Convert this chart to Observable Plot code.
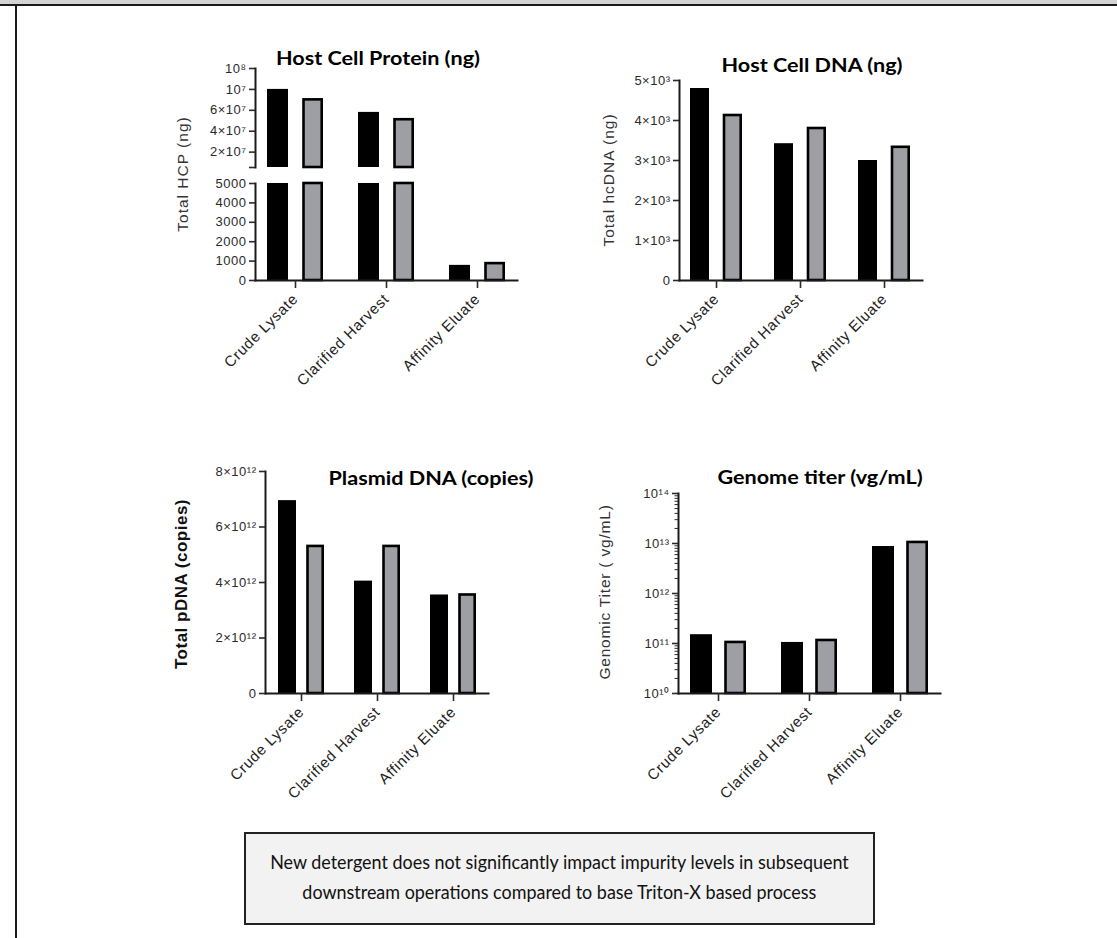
<!DOCTYPE html>
<html><head><meta charset="utf-8">
<script src="https://cdn.jsdelivr.net/npm/d3@7"></script>
<script src="https://cdn.jsdelivr.net/npm/@observablehq/plot@0.6"></script>
<style>
html,body{margin:0;padding:0;background:#fff;}
#page{position:relative;width:1117px;height:938px;overflow:hidden;font-family:"Liberation Sans",Arial,sans-serif;}
.title{position:absolute;transform:translate(-50%,-50%) scaleX(1.2);font-family:Lato,"Open Sans",sans-serif;font-weight:700;font-size:18px;white-space:nowrap;color:#000;}
.ylab{position:absolute;transform:translate(-50%,-50%) rotate(-90deg);white-space:nowrap;font-size:15.5px;letter-spacing:1px;color:#333;}
.panelsvg{position:absolute;}
.panelsvg g[aria-label="x-axis tick label"] text{font-size:15px;letter-spacing:0.7px;fill:#222;}
.panelsvg g[aria-label="y-axis tick label"] text{font-size:13px;letter-spacing:0.5px;fill:#2a2a2a;}
#topband{position:absolute;left:0;top:0;width:1117px;height:4px;background:#d3d3d3;border-bottom:2px solid #1a1a1a;}
#leftline{position:absolute;left:15px;top:4px;width:2px;height:934px;background:#1a1a1a;}
#caption{position:absolute;left:244px;top:832px;width:627px;height:89px;border:2px solid #222;background:#f2f2f2;font-family:Lato,"Open Sans",sans-serif;font-size:19.5px;color:#111;text-align:center;line-height:30px;padding-top:0;box-sizing:content-box;}
#caption div{width:627px;display:flex;justify-content:center;}
#caption span{display:inline-block;transform:scaleX(0.92);white-space:nowrap;}
#caption div:first-child{margin-top:13px;}
</style></head><body><div id="page">
<div id="topband"></div><div id="leftline"></div>
</div>
<script>
// ---------- data ----------
const categories = ["Crude Lysate", "Clarified Harvest", "Affinity Eluate"];
const seriesNames = ["Triton-X (base)", "New detergent"];

const hcpBase = [8.0e7, 5.8e7, 780];
const hcpNew = [7.0e7, 5.1e7, 870];
const hcdnaBase = [4800, 3420, 3000];
const hcdnaNew = [4125, 3800, 3330];
const pdnaBase = [6.95e12, 4.05e12, 3.55e12];
const pdnaNew = [5.3e12, 5.3e12, 3.55e12];
const titerBase = [1.5e11, 1.05e11, 8.7e12];
const titerNew = [1.05e11, 1.15e11, 1.05e13];

// ---------- tick labels ----------
const hcpUpperTicks = [5.3e6, 2e7, 4e7, 6e7, 8e7, 1e8];
const hcpUpperLabels = ["", "2×10⁷", "4×10⁷", "6×10⁷", "10⁷", "10⁸"];
const hcpLowerTicks = [0, 1000, 2000, 3000, 4000, 5000];
const hcpLowerLabels = ["0", "1000", "2000", "3000", "4000", "5000"];
const hcdnaTicks = [0, 1000, 2000, 3000, 4000, 5000];
const hcdnaLabels = ["0", "1×10³", "2×10³", "3×10³", "4×10³", "5×10³"];
const pdnaTicks = [0, 2e12, 4e12, 6e12, 8e12];
const pdnaLabels = ["0", "2×10¹²", "4×10¹²", "6×10¹²", "8×10¹²"];
const titerTicks = [1e10, 1e11, 1e12, 1e13, 1e14];
const titerLabels = ["10¹⁰", "10¹¹", "10¹²", "10¹³", "10¹⁴"];
const titerMinor = d3.range(10, 14).flatMap(k => d3.range(2, 10).map(m => m * Math.pow(10, k)));

const titles = ["Host Cell Protein (ng)", "Host Cell DNA (ng)", "Plasmid DNA (copies)", "Genome titer (vg/mL)"];
const yLabels = ["Total HCP (ng)", "Total hcDNA (ng)", "Total pDNA (copies)", "Genomic Titer ( vg/mL)"];
const captionLines = ["New detergent does not significantly impact impurity levels in subsequent",
  "downstream operations compared to base Triton-X based process"];

// ---------- helpers ----------
const page = document.getElementById("page");
function rows(base, neu) {
  return categories.flatMap((c, i) => [
    {category: c, series: seriesNames[0], value: base[i]},
    {category: c, series: seriesNames[1], value: neu[i]}
  ]);
}
function fmt(ticks, labels) {
  const m = new Map(ticks.map((t, i) => [t, labels[i]]));
  return d => m.has(d) ? m.get(d) : "";
}
function bars(data, geo, yopts) {
  return [
    Plot.barY(data.filter(d => d.series === seriesNames[0]),
      {x: "category", ...yopts, fill: "#000", insetRight: geo.insetBlack}),
    Plot.barY(data.filter(d => d.series === seriesNames[1]),
      {x: "category", ...yopts, fill: "#9e9ea5", stroke: "#000", strokeWidth: 2.6,
       insetLeft: geo.insetGray, insetRight: 1.3})
  ];
}
const baseStyle = {fontFamily: "'Liberation Sans', Arial, sans-serif", fontSize: "12px", color: "#2a2a2a", background: "transparent", overflow: "visible"};
function place(svg, left, top) {
  svg.classList.add("panelsvg");
  svg.style.left = left + "px";
  svg.style.top = top + "px";
  page.appendChild(svg);
}
function xAxis() {
  return Plot.axisX({tickRotate: -45, tickSize: 8, tickPadding: 8, strokeWidth: 1.6, label: null});
}
function yAxis(ticks, labels, extra = {}) {
  return Plot.axisY({ticks, tickFormat: fmt(ticks, labels), tickSize: 6, tickPadding: 3, strokeWidth: 1.6, label: null, ...extra});
}
const axisLine = {stroke: "#1a1a1a", strokeWidth: 2};

// ---------- Panel 1: Host Cell Protein (broken axis) ----------
const hcp = rows(hcpBase, hcpNew);
const xP1 = {domain: categories, paddingInner: 0.385, paddingOuter: 0.12};
const geo1 = {insetBlack: 35, insetGray: 36.5};
place(Plot.plot({
  width: 380, height: 130, marginLeft: 95, marginRight: 23, marginTop: 28, marginBottom: 3,
  style: baseStyle,
  x: {...xP1, axis: null},
  y: {domain: [5.3e6, 1e8]},
  marks: [
    ...bars(hcp.filter(d => d.value > 5000), geo1, {y1: () => 5.3e6, y2: "value"}),
    Plot.frame({anchor: "left", ...axisLine}),
    yAxis(hcpUpperTicks, hcpUpperLabels)
  ]
}), 160, 40);
place(Plot.plot({
  width: 380, height: 240, marginLeft: 95, marginRight: 23, marginTop: 13, marginBottom: 130,
  style: baseStyle,
  x: {...xP1},
  y: {domain: [0, 5000]},
  marks: [
    ...bars(hcp, geo1, {y1: () => 0, y2: d => Math.min(d.value, 5000)}),
    Plot.frame({anchor: "left", ...axisLine}),
    Plot.frame({anchor: "bottom", ...axisLine}),
    yAxis(hcpLowerTicks, hcpLowerLabels),
    xAxis()
  ]
}), 160, 170);

// ---------- Panel 2: Host Cell DNA ----------
place(Plot.plot({
  width: 380, height: 370, marginLeft: 99, marginRight: 38, marginTop: 40, marginBottom: 130,
  style: baseStyle,
  x: {domain: categories, paddingInner: 0.38, paddingOuter: 0.12},
  y: {domain: [0, 5000]},
  marks: [
    ...bars(rows(hcdnaBase, hcdnaNew), {insetBlack: 33, insetGray: 34}, {y: "value"}),
    Plot.frame({anchor: "left", ...axisLine}),
    Plot.frame({anchor: "bottom", ...axisLine}),
    yAxis(hcdnaTicks, hcdnaLabels),
    xAxis()
  ]
}), 580, 40);

// ---------- Panel 3: Plasmid DNA ----------
place(Plot.plot({
  width: 380, height: 370, marginLeft: 105, marginRight: 52, marginTop: 31, marginBottom: 117,
  style: baseStyle,
  x: {domain: categories, paddingInner: 0.40, paddingOuter: 0.15},
  y: {domain: [0, 8e12]},
  marks: [
    ...bars(rows(pdnaBase, pdnaNew), {insetBlack: 28, insetGray: 29.5}, {y: "value"}),
    Plot.frame({anchor: "left", ...axisLine}),
    Plot.frame({anchor: "bottom", ...axisLine}),
    yAxis(pdnaTicks, pdnaLabels),
    xAxis()
  ]
}), 160, 440);

// ---------- Panel 4: Genome titer (log) ----------
place(Plot.plot({
  width: 380, height: 370, marginLeft: 98, marginRight: 20, marginTop: 53, marginBottom: 117,
  style: baseStyle,
  x: {domain: categories, paddingInner: 0.385, paddingOuter: 0.13},
  y: {type: "log", domain: [1e10, 1e14]},
  marks: [
    ...bars(rows(titerBase, titerNew), {insetBlack: 34, insetGray: 35.5}, {y1: () => 1e10, y2: "value"}),
    Plot.frame({anchor: "left", ...axisLine}),
    Plot.frame({anchor: "bottom", ...axisLine}),
    Plot.axisY({ticks: titerMinor, tickFormat: () => "", tickSize: 3.5, strokeWidth: 1, label: null}),
    yAxis(titerTicks, titerLabels),
    xAxis()
  ]
}), 580, 440);

// ---------- titles, axis titles, caption ----------
const titlePos = [[378, 58], [812, 65], [431, 478], [820, 477]];
titles.forEach((t, i) => {
  const d = document.createElement("div");
  d.className = "title"; d.textContent = t;
  d.style.left = titlePos[i][0] + "px"; d.style.top = titlePos[i][1] + "px";
  page.appendChild(d);
});
const ylabPos = [[183, 174], [609, 180], [182, 584], [605, 592]];
yLabels.forEach((t, i) => {
  const d = document.createElement("div");
  d.className = "ylab"; d.textContent = t;
  d.style.left = ylabPos[i][0] + "px"; d.style.top = ylabPos[i][1] + "px";
  if (i === 2) { d.style.fontWeight = "700"; d.style.fontSize = "17px"; d.style.color = "#111"; d.style.letterSpacing = "0.5px"; }
  if (i === 3) { d.style.fontSize = "15.5px"; d.style.letterSpacing = "0.8px"; }
  page.appendChild(d);
});
const cap = document.createElement("div");
cap.id = "caption";
captionLines.forEach(l => {
  const row = document.createElement("div");
  const s = document.createElement("span");
  s.textContent = l; row.appendChild(s); cap.appendChild(row);
});
page.appendChild(cap);
</script></body></html>
